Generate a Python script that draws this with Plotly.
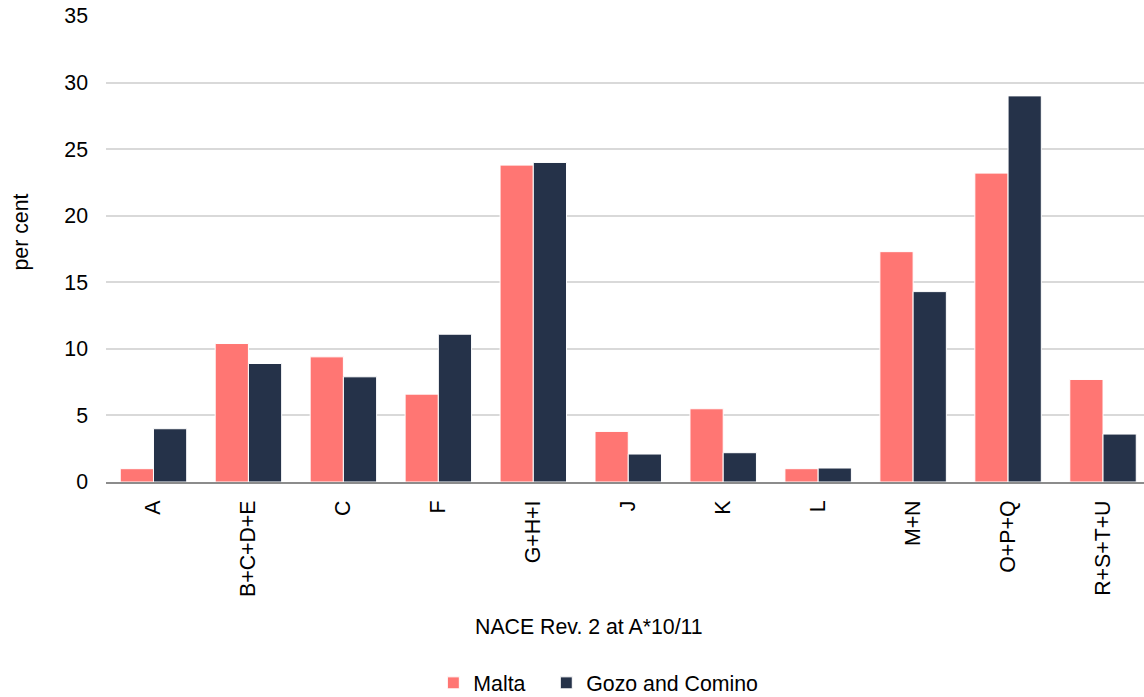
import plotly.graph_objects as go

categories = ["A", "B+C+D+E", "C", "F", "G+H+I", "J", "K", "L", "M+N", "O+P+Q", "R+S+T+U"]
malta = [1.0, 10.4, 9.4, 6.6, 23.8, 3.8, 5.5, 1.0, 17.3, 23.2, 7.7]
gozo = [4.0, 8.9, 7.9, 11.1, 24.0, 2.1, 2.2, 1.05, 14.3, 29.0, 3.6]
y_ticks = [0, 5, 10, 15, 20, 25, 30, 35]
x_title = "NACE Rev. 2 at A*10/11"
y_title = "per cent"

font_family = "Liberation Sans, Arial, sans-serif"
FS = 21.3

W, H = 1144, 697
L, R, T, B = 105.5, 0, 16, 215
pw, ph = W - L - R, H - T - B
cat_px = 95.0  # pixel width of one category slot in the reference

def px_x(x):
    return (x - L) / pw

def px_y(y):
    return (H - B - y) / ph

fig = go.Figure()
fig.add_trace(go.Bar(name="Malta", x=categories, y=malta, legend="legend",
                     marker=dict(color="#FF7673", line=dict(color="white", width=1))))
fig.add_trace(go.Bar(name="Gozo and Comino", x=categories, y=gozo, legend="legend2",
                     marker=dict(color="#253249", line=dict(color="white", width=1))))

legend_style = dict(orientation="h", xanchor="left", y=px_y(683), yanchor="middle",
                    font=dict(size=FS), itemwidth=30, bgcolor="rgba(0,0,0,0)")

fig.update_layout(
    width=W, height=H,
    margin=dict(l=L, r=R, t=T, b=B, autoexpand=False),
    paper_bgcolor="white", plot_bgcolor="white",
    barmode="group", bargap=0.3, bargroupgap=0.0,
    font=dict(family=font_family, size=FS, color="#000000"),
    showlegend=True,
    legend=dict(x=px_x(433), **legend_style),
    legend2=dict(x=px_x(546), **legend_style),
    xaxis=dict(
        range=[-0.5, -0.5 + pw / cat_px],
        tickangle=-90, showgrid=False, showline=True, linecolor="#8c8c8c", linewidth=2,
        ticks="", tickfont=dict(size=FS), ticklabelstandoff=8,
    ),
    yaxis=dict(
        range=[0, 35], tickvals=y_ticks, showgrid=True, gridcolor="#d9d9d9", gridwidth=2,
        zeroline=False, showline=False, ticks="", tickfont=dict(size=FS), ticklabelstandoff=17,
    ),
    annotations=[
        dict(text=x_title, xref="paper", yref="paper", x=px_x(589), y=px_y(627),
             xanchor="center", yanchor="middle", showarrow=False, font=dict(size=FS)),
        dict(text=y_title, xref="paper", yref="paper", x=px_x(20), y=px_y(232),
             xanchor="center", yanchor="middle", textangle=-90, showarrow=False,
             font=dict(size=FS)),
    ],
)

fig.write_html("out.html", config={"displayModeBar": False},
               post_script="document.body.style.margin='0';")
